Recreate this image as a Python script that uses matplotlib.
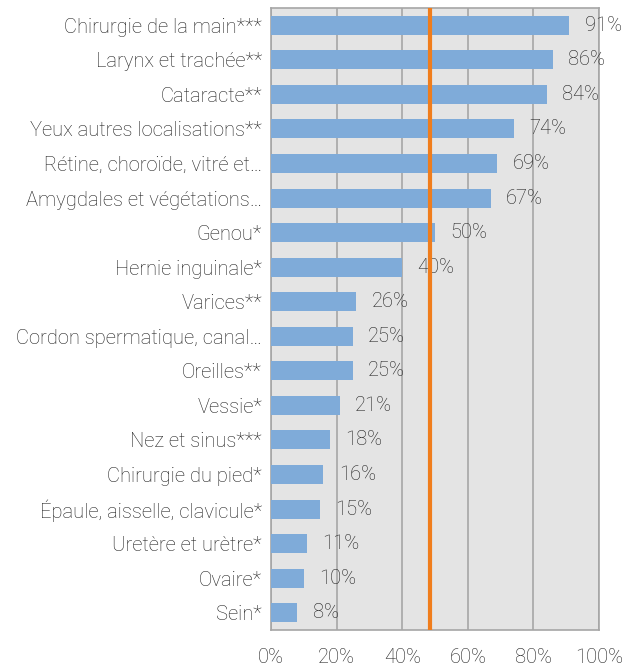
import matplotlib.pyplot as plt
import numpy as np

categories = [
    "Chirurgie de la main***", "Larynx et trachée**", "Cataracte**",
    "Yeux autres localisations**", "Rétine, choroïde, vitré et…",
    "Amygdales et végétations…", "Genou*", "Hernie inguinale*", "Varices**",
    "Cordon spermatique, canal…", "Oreilles**", "Vessie*", "Nez et sinus***",
    "Chirurgie du pied*", "Épaule, aisselle, clavicule*", "Uretère et urètre*",
    "Ovaire*", "Sein*",
]
values = [91, 86, 84, 74, 69, 67, 50, 40, 26, 25, 25, 21, 18, 16, 15, 11, 10, 8]
ref_line = 48.6
xticks = [0, 20, 40, 60, 80, 100]

plt.rcParams['font.family'] = ['Roboto', 'DejaVu Sans']
plt.rcParams['font.weight'] = 'light'

fig = plt.figure(figsize=(6.34, 6.67), dpi=100)
ax = fig.add_axes([271/634, 1 - 630/667, 328/634, 622/667])

y = np.arange(len(categories))
txt = '#1F1F1F'
ax.set_facecolor('#E4E4E4')
ax.barh(y, values, height=0.55, color='#7FABD9', zorder=3)
for yi, v in zip(y, values):
    ax.annotate(f"{v}%", (v, yi), xytext=(11, 0), textcoords='offset points',
                va='center', ha='left', fontsize=14.5, color=txt,
                fontweight='light', zorder=4)
ax.axvline(ref_line, color='#F07D1C', lw=3, zorder=5)

ax.set_xlim(0, 100)
ax.set_ylim(len(categories) - 0.5, -0.5)
ax.set_xticks(xticks)
ax.set_xticklabels([f"{t}%" for t in xticks], fontsize=14.5, color=txt)
ax.set_yticks(y)
ax.set_yticklabels(categories, fontsize=14.5, color=txt)
ax.tick_params(axis='x', length=0, pad=13)
ax.tick_params(axis='y', length=0, pad=6.5)
ax.grid(axis='x', color='#A6A6A6', lw=1.2, zorder=1)
for s in ax.spines.values():
    s.set_color('#A6A6A6')
    s.set_linewidth(1.2)

fig.savefig("out.png", dpi=100)
